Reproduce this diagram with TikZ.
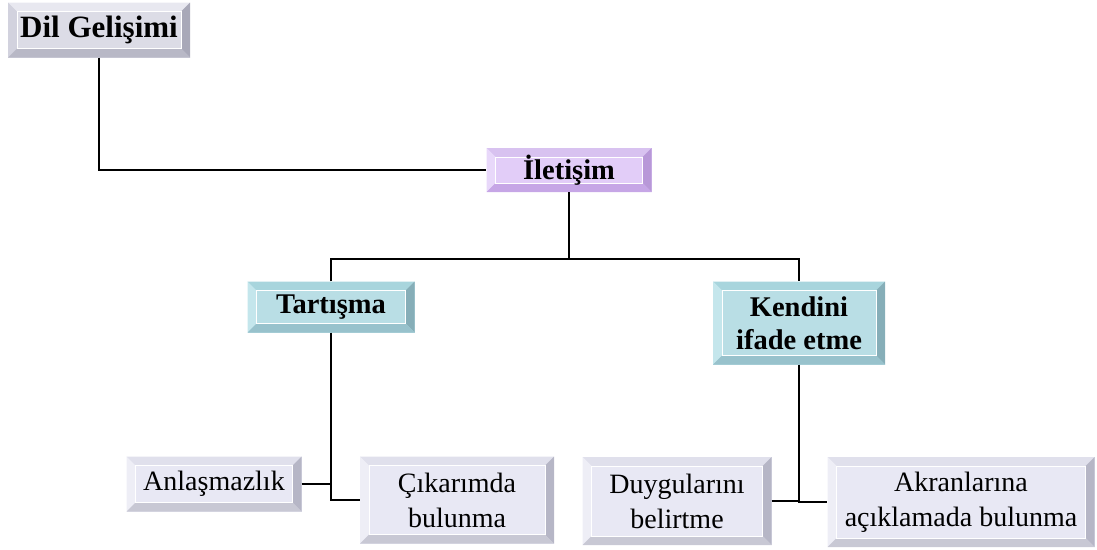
\documentclass[tikz,border=0pt]{standalone}
\usepackage{fontspec}
\setmainfont{Liberation Serif}
\usepackage{xcolor}
\usepackage{tikz}
\usetikzlibrary{calc}
\definecolor{greyface}{HTML}{DCDCE6}
\definecolor{greytop}{HTML}{E8E8F0}
\definecolor{greyleft}{HTML}{D2D2DE}
\definecolor{greyright}{HTML}{A8A8B8}
\definecolor{greybot}{HTML}{B8B8C6}
\definecolor{lilface}{HTML}{E2CDF8}
\definecolor{liltop}{HTML}{D8C2F0}
\definecolor{lilleft}{HTML}{E8D8FA}
\definecolor{lilright}{HTML}{B898D8}
\definecolor{lilbot}{HTML}{C6A6E6}
\definecolor{tealface}{HTML}{B9DEE5}
\definecolor{tealtop}{HTML}{A8D5DD}
\definecolor{tealleft}{HTML}{C4E6EC}
\definecolor{tealright}{HTML}{86AEB8}
\definecolor{tealbot}{HTML}{98C2CC}
\definecolor{leafface}{HTML}{E8E8F4}
\definecolor{leaftop}{HTML}{E0E0EC}
\definecolor{leafleft}{HTML}{EEEEF6}
\definecolor{leafright}{HTML}{B6B6C6}
\definecolor{leafbot}{HTML}{C8C8D4}
\newcommand{\bvw}{9pt}
\tikzset{
  bevel/.style n args={5}{fill=#1, inner sep=0pt, align=center, path picture={
    \coordinate (bvbl) at (path picture bounding box.south west);
    \coordinate (bvtr) at (path picture bounding box.north east);
    \coordinate (bvtl) at (path picture bounding box.north west);
    \coordinate (bvbr) at (path picture bounding box.south east);
    \fill[#2] (bvtl) -- (bvtr) -- ([shift={(-\bvw,-\bvw)}]bvtr) -- ([shift={(\bvw,-\bvw)}]bvtl) -- cycle;
    \fill[#3] (bvtl) -- (bvbl) -- ([shift={(\bvw,\bvw)}]bvbl) -- ([shift={(\bvw,-\bvw)}]bvtl) -- cycle;
    \fill[#4] (bvtr) -- (bvbr) -- ([shift={(-\bvw,\bvw)}]bvbr) -- ([shift={(-\bvw,-\bvw)}]bvtr) -- cycle;
    \fill[#5] (bvbl) -- (bvbr) -- ([shift={(-\bvw,\bvw)}]bvbr) -- ([shift={(\bvw,\bvw)}]bvbl) -- cycle;
    \draw[white, line width=.8pt] ([shift={(\bvw,\bvw)}]bvbl) rectangle ([shift={(-\bvw,-\bvw)}]bvtr);
  }},
  rootbox/.style={bevel={greyface}{greytop}{greyleft}{greyright}{greybot}, font=\bfseries\fontsize{31}{36}\selectfont},
  topbox/.style={bevel={lilface}{liltop}{lilleft}{lilright}{lilbot}, font=\bfseries\fontsize{28.5}{32}\selectfont},
  midbox/.style={bevel={tealface}{tealtop}{tealleft}{tealright}{tealbot}, font=\bfseries\fontsize{28.5}{33}\selectfont},
  leafbox/.style={bevel={leafface}{leaftop}{leafleft}{leafright}{leafbot}, font=\fontsize{28}{35}\selectfont},
  link/.style={black, line width=2pt}
}

\begin{document}
\begin{tikzpicture} [x=1pt, y=-1pt]
\useasboundingbox (0,0) rectangle (1097,549);
\node[rootbox, minimum width=182pt, minimum height=55pt] (dil) at (99,30) {Dil Gelişimi};
\node[topbox, minimum width=165pt, minimum height=44pt] (ilet) at (569,170) {İletişim};
\node[midbox, minimum width=167pt, minimum height=51pt] (tart) at (331,307) {Tartışma};
\node[midbox, minimum width=172pt, minimum height=83pt] (kend) at (799,323) {Kendini\\ifade etme};
\node[leafbox, minimum width=175pt, minimum height=55pt] (anl) at (214,484) {Anlaşmazlık};
\node[leafbox, minimum width=194pt, minimum height=87pt] (cik) at (457,500) {Çıkarımda\\bulunma};
\node[leafbox, minimum width=189pt, minimum height=88pt] (duy) at (677,501) {Duygularını\\belirtme};
\node[leafbox, minimum width=267pt, minimum height=90pt] (akr) at (961,502) {Akranlarına\\açıklamada bulunma};
\coordinate (split) at (569,259);
\draw[link] (dil.south) |- (ilet.west);
\draw[link] (ilet.south) -- (split);
\draw[link] (tart.north) -- (tart.north |- split) -- (kend.north |- split) -- (kend.north);
\draw[link] (tart.south) |- (cik.west);
\draw[link] (anl.east) -- (anl.east -| tart.south);
\draw[link] (kend.south) |- (akr.west);
\draw[link] (duy.east) -- (duy.east -| kend.south);
\end{tikzpicture}
\end{document}
